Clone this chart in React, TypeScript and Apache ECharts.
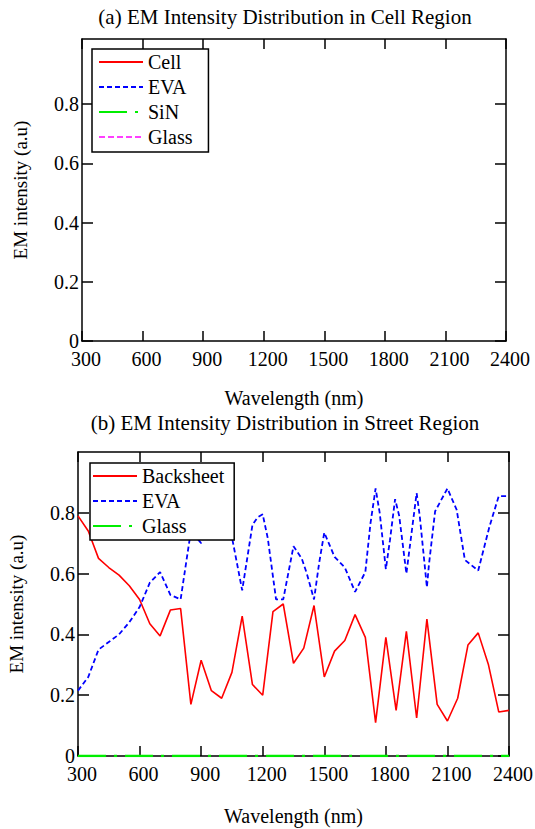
import React, { useEffect, useRef } from 'react';
import * as echarts from 'echarts';

const FONT = '"Liberation Serif", "Times New Roman", serif';

// Shared axis ticks
const wavelengthMin = 300;
const wavelengthMax = 2400;
const wavelengthStep = 300;
const intensityTicks = [0, 0.2, 0.4, 0.6, 0.8];

// (a) Cell region — legend entries, no visible curves in the plot
const cellRegionCell: [number, number][] = [];
const cellRegionEva: [number, number][] = [];
const cellRegionSiN: [number, number][] = [];
const cellRegionGlass: [number, number][] = [];

// (b) Street region
const streetWavelengths = [
  300, 350, 400, 450, 500, 550, 600, 650, 700, 750, 800,
  850, 900, 950, 1000, 1050, 1100, 1150, 1200, 1250, 1300,
  1350, 1400, 1450, 1500, 1550, 1600, 1650, 1700, 1750, 1800,
  1850, 1900, 1950, 2000, 2050, 2100, 2150, 2200, 2250, 2300,
  2350, 2400,
];
const backsheetValues = [
  0.79, 0.74, 0.65, 0.62, 0.595, 0.56, 0.515, 0.435, 0.395, 0.48, 0.485,
  0.17, 0.315, 0.215, 0.19, 0.275, 0.46, 0.235, 0.2, 0.475, 0.5,
  0.305, 0.355, 0.495, 0.26, 0.345, 0.38, 0.465, 0.39, 0.11, 0.39,
  0.15, 0.41, 0.125, 0.45, 0.17, 0.115, 0.19, 0.365, 0.405, 0.3,
  0.145, 0.15,
];
const glassValues = [
  0, 0, 0, 0, 0, 0, 0, 0, 0, 0, 0,
  0, 0, 0, 0, 0, 0, 0, 0, 0, 0,
  0, 0, 0, 0, 0, 0, 0, 0, 0, 0,
  0, 0, 0, 0, 0, 0, 0, 0, 0, 0,
  0, 0,
];
const evaStreetWavelengths = [
  300, 350, 400, 450, 500, 550, 600, 650, 700, 750, 800,
  850, 900, 950, 1000, 1050, 1100, 1150, 1175, 1200, 1225, 1265, 1300,
  1350, 1390, 1415, 1450, 1475, 1500, 1550, 1600, 1650, 1700, 1725, 1750,
  1770, 1800, 1820, 1845, 1865, 1900, 1950, 1965, 2000, 2010, 2040,
  2100, 2145, 2185, 2250, 2305, 2350, 2400,
];
const evaStreetValues = [
  0.215, 0.26, 0.35, 0.375, 0.4, 0.44, 0.49, 0.57, 0.605, 0.53, 0.515,
  0.74, 0.7, 0.8, 0.83, 0.72, 0.545, 0.76, 0.785, 0.795, 0.715, 0.515, 0.515,
  0.69, 0.65, 0.6, 0.515, 0.635, 0.735, 0.655, 0.62, 0.54, 0.605, 0.765, 0.88,
  0.8, 0.615, 0.71, 0.845, 0.79, 0.6, 0.865, 0.79, 0.555, 0.63, 0.805,
  0.88, 0.81, 0.645, 0.61, 0.755, 0.855, 0.855,
];

const RED = '#ff0000';
const BLUE = '#0000ff';
const GREEN = '#00ee00';
const MAGENTA = '#ff00ff';
const BLUE_DASH = [5, 3];
const GREEN_DASH = [28, 8, 3, 8];
const MAGENTA_DASH = [6, 3];

const axisLineStyle = { color: '#000', width: 1.5 };

function makeXAxes(gridIndex: number) {
  return [
    {
      gridIndex,
      type: 'value',
      position: 'bottom',
      min: wavelengthMin,
      max: wavelengthMax,
      interval: wavelengthStep,
      axisLine: { show: true, onZero: false, lineStyle: axisLineStyle },
      axisTick: { show: true, inside: true, length: 10, lineStyle: axisLineStyle },
      axisLabel: {
        show: true,
        margin: 10,
        fontSize: 20,
        lineHeight: 16,
        fontFamily: FONT,
        color: '#000',
        padding: [0, 0, 0, 8],
        formatter: (v: number) => String(v),
      },
      splitLine: { show: false },
      name: 'Wavelength (nm)',
      nameLocation: 'middle',
      nameGap: gridIndex === 0 ? 47 : 50,
      nameTextStyle: { fontSize: 20, fontFamily: FONT, color: '#000' },
    },
    {
      gridIndex,
      type: 'value',
      position: 'top',
      min: wavelengthMin,
      max: wavelengthMax,
      interval: wavelengthStep,
      axisLine: { show: true, onZero: false, lineStyle: axisLineStyle },
      axisTick: { show: true, inside: true, length: 10, lineStyle: axisLineStyle },
      axisLabel: { show: false },
      splitLine: { show: false },
    },
  ];
}

function makeYAxes(gridIndex: number, max: number) {
  return [
    {
      gridIndex,
      type: 'value',
      position: 'left',
      min: 0,
      max,
      axisLine: { show: true, onZero: false, lineStyle: axisLineStyle },
      axisTick: {
        show: true,
        inside: true,
        length: 11,
        lineStyle: axisLineStyle,
        customValues: intensityTicks,
      },
      axisLabel: {
        show: true,
        margin: 3,
        fontSize: 20,
        lineHeight: 14,
        fontFamily: FONT,
        color: '#000',
        customValues: intensityTicks,
        formatter: (v: number) => String(v),
      },
      splitLine: { show: false },
      name: 'EM intensity (a.u)',
      nameLocation: 'middle',
      nameGap: 52,
      nameRotate: 90,
      nameTextStyle: { fontSize: 19, fontFamily: FONT, color: '#000' },
    },
    {
      gridIndex,
      type: 'value',
      position: 'right',
      min: 0,
      max,
      axisLine: { show: true, onZero: false, lineStyle: axisLineStyle },
      axisTick: {
        show: true,
        inside: true,
        length: 11,
        lineStyle: axisLineStyle,
        customValues: intensityTicks,
      },
      axisLabel: { show: false },
      splitLine: { show: false },
    },
  ];
}

function lineSeries(
  name: string,
  data: [number, number][],
  axisIndex: number,
  color: string,
  type: any,
  width: number,
) {
  return {
    type: 'line',
    name,
    data,
    xAxisIndex: axisIndex,
    yAxisIndex: axisIndex,
    symbol: 'none',
    showSymbol: false,
    clip: true,
    lineStyle: { color, width, type },
    itemStyle: { color },
    emphasis: { disabled: true },
  };
}

const legendText = { fontSize: 20, fontFamily: FONT, color: '#000' };
const hiddenSymbol = { opacity: 0, color: 'transparent', borderWidth: 0 };

export default function App() {
  const ref = useRef<HTMLDivElement>(null);

  useEffect(() => {
    if (!ref.current) return;
    const chart = echarts.init(ref.current, undefined, { renderer: 'svg' });

    const backsheetData = streetWavelengths.map((w, i) => [w, backsheetValues[i]] as [number, number]);
    const glassData = streetWavelengths.map((w, i) => [w, glassValues[i]] as [number, number]);
    const evaData = evaStreetWavelengths.map((w, i) => [w, evaStreetValues[i]] as [number, number]);

    const option: any = {
      animation: false,
      backgroundColor: '#ffffff',
      textStyle: { fontFamily: FONT, color: '#000' },
      graphic: [
        {
          type: 'text',
          x: 285,
          y: 17,
          style: {
            text: '(a) EM Intensity Distribution in Cell Region',
            font: `21px ${FONT}`,
            fill: '#000',
            align: 'center',
            verticalAlign: 'middle',
          },
        },
        {
          type: 'text',
          x: 285,
          y: 423,
          style: {
            text: '(b) EM Intensity Distribution in Street Region',
            font: `21px ${FONT}`,
            fill: '#000',
            align: 'center',
            verticalAlign: 'middle',
          },
        },
      ],
      grid: [
        { left: 82, top: 39, width: 424, height: 302, containLabel: false, outerBoundsMode: 'none' },
        { left: 78, top: 452, width: 431, height: 304, containLabel: false, outerBoundsMode: 'none' },
      ],
      xAxis: [...makeXAxes(0), ...makeXAxes(1)],
      yAxis: [...makeYAxes(0, 1.02), ...makeYAxes(1, 1.0)],
      legend: [
        {
          orient: 'vertical',
          left: 92,
          top: 49,
          padding: [3, 16, 5, 6],
          itemGap: 5,
          itemWidth: 44,
          itemHeight: 14,
          borderColor: '#000',
          borderWidth: 1.5,
          backgroundColor: '#ffffff',
          textStyle: legendText,
          selectedMode: false,
          itemStyle: hiddenSymbol,
          data: [
            { name: 'Cell' },
            { name: 'EVA' },
            { name: 'SiN' },
            { name: 'Glass', lineStyle: { color: MAGENTA, type: MAGENTA_DASH, width: 1.6 } },
          ],
        },
        {
          orient: 'vertical',
          left: 90,
          top: 463,
          padding: [3, 10, 4, 2],
          itemGap: 5,
          itemWidth: 44,
          itemHeight: 14,
          borderColor: '#000',
          borderWidth: 1.5,
          backgroundColor: '#ffffff',
          textStyle: legendText,
          selectedMode: false,
          itemStyle: hiddenSymbol,
          data: [
            { name: 'Backsheet' },
            { name: 'EVA' },
            { name: 'Glass', lineStyle: { color: GREEN, type: GREEN_DASH, width: 2 } },
          ],
        },
      ],
      series: [
        lineSeries('Cell', cellRegionCell, 0, RED, 'solid', 1.6),
        lineSeries('EVA', cellRegionEva, 0, BLUE, BLUE_DASH, 1.8),
        lineSeries('SiN', cellRegionSiN, 0, GREEN, GREEN_DASH, 2),
        lineSeries('Glass', cellRegionGlass, 0, MAGENTA, MAGENTA_DASH, 1.6),
        lineSeries('Backsheet', backsheetData, 2, RED, 'solid', 1.6),
        lineSeries('EVA', evaData, 2, BLUE, BLUE_DASH, 1.8),
        lineSeries('Glass', glassData, 2, GREEN, GREEN_DASH, 2.5),
      ],
    };

    chart.setOption(option);
    return () => {
      chart.dispose();
    };
  }, []);

  return (
    <div
      ref={ref}
      style={{ position: 'fixed', left: 0, top: 0, width: 535, height: 829, background: '#fff' }}
    />
  );
}
